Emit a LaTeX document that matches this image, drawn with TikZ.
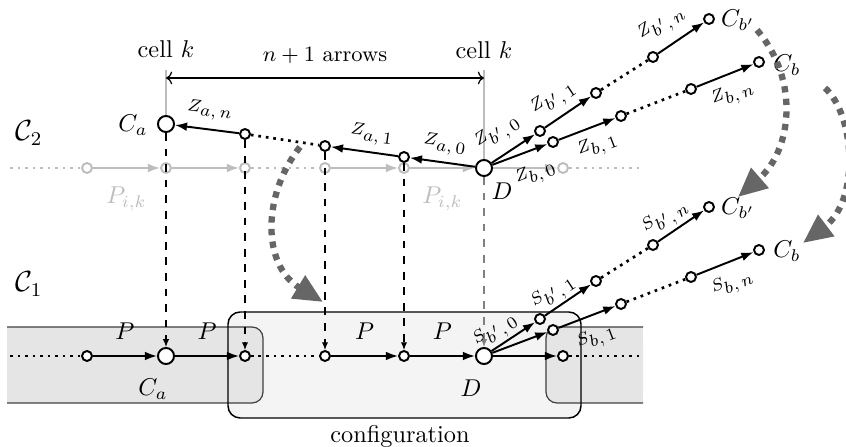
\documentclass[tikz,border=0pt]{standalone}
\usetikzlibrary{arrows.meta}
\definecolor{bandgray}{HTML}{E5E5E5}
\definecolor{cfggray}{HTML}{F4F4F4}
\definecolor{lightrow}{HTML}{BDBDBD}
\definecolor{bigarrow}{HTML}{666666}
\definecolor{dashgray}{HTML}{808080}
\newcommand{\zsub}[2]{$#1_{\textstyle #2}$}
\begin{document}
\begin{tikzpicture}[x=0.4115pt,y=-0.4115pt,
  sm/.style={circle,draw,line width=0.8pt,fill=white,inner sep=0pt,minimum size=4.1pt},
  bg/.style={sm,minimum size=6.6pt},
  gsm/.style={sm,draw=lightrow},
  arr/.style={line width=0.8pt,-{Latex[length=5pt,width=3.6pt]}},
  arrL/.style={line width=0.8pt,{Latex[length=5pt,width=3.6pt]}-},
  garr/.style={arr,draw=lightrow},
  dotln/.style={line width=1.1pt,dotted},
  gdotln/.style={dotln,draw=lightrow},
  vdash/.style={line width=0.5pt,dash pattern=on 3.2pt off 3.2pt,-{Latex[length=3.2pt,width=2.6pt]}},
  bigarr/.style={draw=bigarrow,line width=2.6pt,dash pattern=on 2.6pt off 2.6pt,-{Triangle[length=12pt,width=10.5pt]}},
  zlab/.style={font=\fontsize{7}{8}\selectfont,inner sep=0pt},
  txt/.style={inner sep=0pt}
]
\useasboundingbox (0,0) rectangle (846,447);

% ---- bands and configuration box
\fill[cfggray, rounded corners=5pt] (228,312) rectangle (581,418);
\fill[bandgray, rounded corners=4.5pt] (7,327) rectangle (263,403);
\fill[bandgray] (7,327) rectangle (200,403);
\fill[bandgray, rounded corners=4.5pt] (546,327) rectangle (643,403);
\fill[bandgray] (600,327) rectangle (643,403);
\draw[line width=0.5pt, black!75, rounded corners=4.5pt] (7,327) -- (263,327) -- (263,403) -- (7,403);
\draw[line width=0.5pt, black!75, rounded corners=4.5pt] (643,327) -- (546,327) -- (546,403) -- (643,403);
\draw[line width=0.6pt, rounded corners=5pt] (228,312) rectangle (581,418);
\node[txt] (cfg) at (400,436) {configuration};

% ---- labels of levels
\node[txt] (C2) at (29,133) {\large $\mathcal{C}_2$};
\node[txt] (C1) at (29,284) {\large $\mathcal{C}_1$};

% ---- C2 grey row
\coordinate (gl) at (10,168);
\coordinate (gr) at (640,168);
\node[gsm] (g0) at (87,168) {};
\node[gsm] (g1) at (166,168) {};
\node[gsm] (g2) at (245,168) {};
\node[gsm] (g3) at (325,168) {};
\node[gsm] (g4) at (404,168) {};
\node[gsm] (g6) at (563,168) {};

% ---- C2 black nodes
\node[bg] (Ca) at (166,124) {};
\node[sm] (a2) at (245,134) {};
\node[sm] (a1) at (325,146) {};
\node[sm] (a0) at (404,157) {};
\node[bg] (D) at (484,168) {};
\node[sm] (u1) at (540,131) {};
\node[sm] (u2) at (596,93) {};
\node[sm] (u3) at (653,57) {};
\node[sm] (u4) at (709,19) {};
\node[sm] (l1) at (553,142) {};
\node[sm] (l2) at (621,116) {};
\node[sm] (l3) at (691,89) {};
\node[sm] (l4) at (759,62) {};

% ---- C1 nodes
\coordinate (bl) at (10,356);
\coordinate (br) at (640,356);
\node[sm] (b0) at (87,356) {};
\node[bg] (bCa) at (166,356) {};
\node[sm] (b2) at (245,356) {};
\node[sm] (b3) at (325,356) {};
\node[sm] (b4) at (404,356) {};
\node[bg] (bD) at (484,356) {};
\node[sm] (b6) at (563,356) {};
\node[sm] (v1) at (540,319) {};
\node[sm] (v2) at (596,281) {};
\node[sm] (v3) at (653,245) {};
\node[sm] (v4) at (709,207) {};
\node[sm] (w1) at (553,330) {};
\node[sm] (w2) at (621,304) {};
\node[sm] (w3) at (691,277) {};
\node[sm] (w4) at (759,250) {};

% ---- grey row connectors
\draw[gdotln] (gl) -- (g0);
\draw[garr] (g0) -- node[below=4pt, text=lightrow] {$P_{i,k}$} (g1);
\draw[garr] (g1) -- (g2);
\draw[gdotln] (g2) -- (g3);
\draw[garr] (g3) -- (g4);
\draw[garr] (g4) -- node[below=4pt, text=lightrow] {$P_{i,k}$} (D);
\draw[garr] (D) -- (g6);
\draw[gdotln] (g6) -- (gr);

% ---- cell markers
\coordinate (kL) at (166,70);
\coordinate (kR) at (484,70);
\coordinate (hL) at (166,78);
\coordinate (hR) at (484,78);
\draw[lightrow, line width=0.5pt] (kL) -- (Ca);
\draw[lightrow, line width=0.5pt] (kR) -- (D);
\node[txt] (cellL) at (166,49) {cell $k$};
\node[txt] (cellR) at (484,50) {cell $k$};
\draw[line width=0.5pt, {To[length=2.5pt]}-{To[length=2.5pt]}] (hL) -- node[above=2.5pt] {\small $n+1$ arrows} (hR);

% ---- vertical projections
\draw[vdash] (Ca) -- (bCa);
\draw[vdash] (a2) -- (b2);
\draw[vdash] (a1) -- (b3);
\draw[vdash] (a0) -- (b4);
\draw[vdash, draw=dashgray] (D) -- (bD);

% ---- C2 black connectors
\draw[arrL] (Ca) -- (a2);
\draw[dotln] (a2) -- (a1);
\draw[arrL] (a1) -- (a0);
\draw[arrL] (a0) -- (D);
\draw[arr] (D) -- (u1);
\draw[arr] (u1) -- (u2);
\draw[dotln] (u2) -- (u3);
\draw[arr] (u3) -- (u4);
\draw[arr] (D) -- (l1);
\draw[arr] (l1) -- (l2);
\draw[dotln] (l2) -- (l3);
\draw[arr] (l3) -- (l4);

\node[zlab, rotate=-7.5] (zan) at (210,111) {\zsub{Z}{a,n}};
\node[zlab, rotate=-8] (za1) at (372,135) {\zsub{Z}{a,1}};
\node[zlab, rotate=-8] (za0) at (445,145) {\zsub{Z}{a,0}};
\node[zlab, rotate=33.5] (zbp0) at (498,133) {\zsub{Z}{b',0}};
\node[zlab, rotate=33.5] (zbp1) at (554,99) {\zsub{Z}{b',1}};
\node[zlab, rotate=33.5] (zbpn) at (662,24) {\zsub{Z}{b',n}};
\node[zlab, rotate=21] (zb0) at (536,174) {\zsub{Z}{b,0}};
\node[zlab, rotate=21] (zb1) at (598,146) {\zsub{Z}{b,1}};
\node[zlab, rotate=21] (zbn) at (733,95) {\zsub{Z}{b,n}};

\node[txt] (lCa) at (133,125) {$C_a$};
\node[txt] (lD) at (502,191) {$D$};
\node[txt] (lCbp) at (738,20) {$C_{b'}$};
\node[txt] (lCb) at (787,65) {$C_b$};

% ---- C1 connectors
\draw[dotln] (bl) -- (b0);
\draw[arr] (b0) -- node[above=3pt] {$P$} (bCa);
\draw[arr] (bCa) -- node[above=3pt] {$P$} (b2);
\draw[dotln] (b2) -- (b3);
\draw[arr] (b3) -- node[above=3pt] {$P$} (b4);
\draw[arr] (b4) -- node[above=3pt] {$P$} (bD);
\draw[arr] (bD) -- (b6);
\draw[dotln] (b6) -- (br);
\draw[arr] (bD) -- (v1);
\draw[arr] (v1) -- (v2);
\draw[dotln] (v2) -- (v3);
\draw[arr] (v3) -- (v4);
\draw[arr] (bD) -- (w1);
\draw[arr] (w1) -- (w2);
\draw[dotln] (w2) -- (w3);
\draw[arr] (w3) -- (w4);

\node[zlab, rotate=33.5] (sbp0) at (496,331) {\zsub{S}{b',0}};
\node[zlab, rotate=33.5] (sbp1) at (554,293) {\zsub{S}{b',1}};
\node[zlab, rotate=33.5] (sbpn) at (666,218) {\zsub{S}{b',n}};
\node[zlab, rotate=21] (sb1) at (597,338) {\zsub{S}{b,1}};
\node[zlab, rotate=21] (sbn) at (733,284) {\zsub{S}{b,n}};

\node[txt] (lbCa) at (153,389) {$C_a$};
\node[txt] (lbD) at (471,388) {$D$};
\node[txt] (lbCbp) at (738,208) {$C_{b'}$};
\node[txt] (lbCb) at (787,251) {$C_b$};

% ---- thick curved arrows
\coordinate (s1) at (300,147);
\coordinate (e1) at (323,302);
\coordinate (s2) at (757,30);
\coordinate (e2) at (738,197);
\coordinate (s3) at (825,88);
\coordinate (e3) at (803,243);
\draw[bigarr] (s1) .. controls (262,195) and (262,265) .. (e1);
\draw[bigarr] (s2) .. controls (800,80) and (792,150) .. (e2);
\draw[bigarr] (s3) .. controls (855,115) and (860,200) .. (e3);
\end{tikzpicture}
\end{document}
